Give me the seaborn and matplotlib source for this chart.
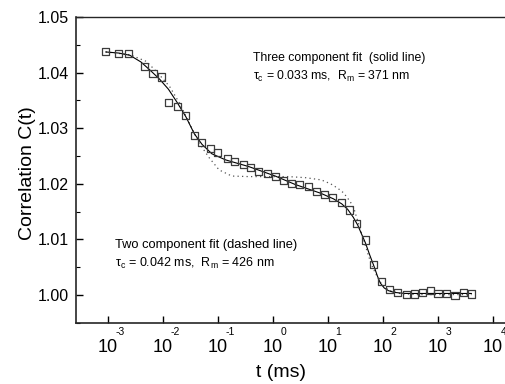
import numpy as np
import pandas as pd
import matplotlib
matplotlib.use("Agg")
import matplotlib.pyplot as plt
import matplotlib.ticker as ticker
import matplotlib.transforms as mtransforms
import seaborn as sns

# measured points: t (ms) and correlation
t_data = [0.000912, 0.00158, 0.00234, 0.00468, 0.00661, 0.00933, 0.0126, 0.0186,
          0.0257, 0.0372, 0.0501, 0.0724, 0.100, 0.148, 0.200, 0.288, 0.398, 0.537,
          0.794, 1.12, 1.55, 2.19, 3.09, 4.37, 6.17, 8.71, 12.0, 17.4, 24.5, 33.1,
          47.9, 67.6, 93.3, 132, 186, 263, 372, 525, 741, 1000, 1413, 2042, 2884, 4074]
c_data = [1.0437, 1.0434, 1.0434, 1.0411, 1.0398, 1.0392, 1.0346, 1.0339, 1.0323,
          1.0287, 1.0275, 1.0264, 1.0257, 1.0245, 1.0240, 1.0234, 1.0230, 1.0222,
          1.0218, 1.0213, 1.0206, 1.0201, 1.0199, 1.0196, 1.0187, 1.0181, 1.0175,
          1.0167, 1.0153, 1.0129, 1.0099, 1.0055, 1.0024, 1.0010, 1.0005, 1.0001,
          1.0002, 1.0005, 1.0009, 1.0003, 1.0003, 1.0000, 1.0004, 1.0002]

# three component fit (solid line)
t_solid = [0.000912, 0.00158, 0.00251, 0.00398, 0.00603, 0.00871, 0.0126, 0.0182,
           0.0263, 0.0372, 0.0513, 0.0776, 0.138, 0.363, 1.10, 2.51, 7.41, 12.6,
           17.8, 22.9, 28.8, 34.7, 40.7, 47.9, 57.5, 69.2, 79.4, 89.1, 105, 126,
           158, 251, 1000, 4074]
c_solid = [1.0437, 1.0435, 1.0431, 1.0419, 1.0403, 1.0388, 1.0370, 1.0346, 1.0320,
           1.0290, 1.0271, 1.0254, 1.0243, 1.0231, 1.0214, 1.0199, 1.0183, 1.0173,
           1.0164, 1.0154, 1.0140, 1.0126, 1.0110, 1.0094, 1.0072, 1.0051, 1.0034,
           1.0022, 1.0013, 1.0008, 1.0005, 1.0003, 1.0003, 1.0003]

# two component fit (dotted line)
t_two = [0.000912, 0.00251, 0.00501, 0.00794, 0.0132, 0.0200, 0.0316, 0.0457, 0.0692,
         0.105, 0.178, 0.363, 1.91, 3.98, 7.59, 11.2, 15.1, 19.1, 22.9, 26.9, 30.2,
         35.5, 42.7, 52.5, 61.7, 72.4, 87.1, 105, 132, 200, 398, 4074]
c_two = [1.0437, 1.0432, 1.0420, 1.0400, 1.0375, 1.0345, 1.0305, 1.0273, 1.0247,
         1.0225, 1.0214, 1.0213, 1.0213, 1.0211, 1.0207, 1.0200, 1.0192, 1.0184,
         1.0174, 1.0164, 1.0153, 1.0130, 1.0105, 1.0076, 1.0055, 1.0040, 1.0025,
         1.0015, 1.0008, 1.0003, 1.0001, 1.0001]

x_ticks = [1e-3, 1e-2, 1e-1, 1e0, 1e1, 1e2, 1e3, 1e4]
x_exps = ['-3', '-2', '-1', '0', '1', '2', '3', '4']
y_ticks = [1.00, 1.01, 1.02, 1.03, 1.04, 1.05]

sns.set_style("ticks")
plt.rcParams['font.family'] = ['Liberation Sans', 'DejaVu Sans']
plt.rcParams['mathtext.fontset'] = 'custom'
plt.rcParams['mathtext.rm'] = 'Liberation Sans'
plt.rcParams['text.color'] = 'black'
plt.rcParams['axes.labelcolor'] = 'black'
plt.rcParams['xtick.color'] = 'black'
plt.rcParams['ytick.color'] = 'black'

fig = plt.figure(figsize=(5.06, 3.84), dpi=100)
ax = fig.add_axes([0.150, 0.159, 0.848, 0.797])

solid = pd.DataFrame({'t': t_solid, 'c': c_solid})
two = pd.DataFrame({'t': t_two, 'c': c_two})
pts = pd.DataFrame({'t': t_data, 'c': c_data})

sns.lineplot(data=two, x='t', y='c', ax=ax, color='#555555', lw=0.9,
             linestyle=(0, (1, 2.6)), sort=False, estimator=None)
sns.lineplot(data=solid, x='t', y='c', ax=ax, color='black', lw=0.8,
             sort=False, estimator=None)
sns.scatterplot(data=pts, x='t', y='c', ax=ax, marker='s', s=26, zorder=3)
sq = ax.collections[-1]
sq.set_facecolor('none')
sq.set_edgecolor('#3c3c3c')
sq.set_linewidth(0.9)

ax.set_xscale('log')
ax.set_xlim(10 ** -3.582, 10 ** 4.218)
ax.set_ylim(0.995, 1.050)
ax.set_xticks(x_ticks)
ax.set_xticklabels(['10'] * len(x_ticks))
ax.xaxis.set_minor_locator(ticker.LogLocator(base=10, subs=np.arange(2, 10)))
ax.xaxis.set_minor_formatter(ticker.NullFormatter())
ax.set_yticks(y_ticks)
ax.yaxis.set_major_formatter(ticker.FormatStrFormatter('%.2f'))
ax.yaxis.set_minor_locator(ticker.MultipleLocator(0.005))

ax.tick_params(axis='both', which='major', direction='in', length=5, width=1.0)
ax.tick_params(axis='both', which='minor', direction='in', length=3, width=0.8)
ax.tick_params(axis='x', which='major', labelsize=13, pad=11.5)
ax.tick_params(axis='y', which='major', labelsize=11.5, pad=5)

# exponents sit above and right of each "10"
trans = mtransforms.blended_transform_factory(ax.transData, ax.transAxes)
for xt, ex in zip(x_ticks, x_exps):
    ax.annotate(ex, xy=(xt, 0), xycoords=trans, xytext=(5.5, -6.5),
                textcoords='offset points', fontsize=7.5, ha='left', va='center',
                annotation_clip=False)

for side in ['left', 'bottom']:
    ax.spines[side].set_linewidth(1.2)
ax.spines['top'].set_linewidth(1.0)
ax.spines['right'].set_visible(False)

ax.set_xlabel('t (ms)', fontsize=14)
ax.set_ylabel('Correlation C(t)', fontsize=14)
ax.xaxis.set_label_coords(0.478, -0.133)
ax.yaxis.set_label_coords(-0.092, 0.49)

ax.text(0.413, 0.866, 'Three component fit  (solid line)', transform=ax.transAxes,
        fontsize=8.8, va='center', ha='left')
ax.text(0.413, 0.807, r'τ$_\mathregular{c}$ = 0.033 ms,  R$_\mathregular{m}$ = 371 nm',
        transform=ax.transAxes, fontsize=8.8, va='center', ha='left')
ax.text(0.091, 0.255, 'Two component fit (dashed line)', transform=ax.transAxes,
        fontsize=9.3, va='center', ha='left')
ax.text(0.091, 0.196, r'τ$_\mathregular{c}$ = 0.042 ms,  R$_\mathregular{m}$ = 426 nm',
        transform=ax.transAxes, fontsize=9.0, va='center', ha='left')

fig.savefig('out.png', dpi=100)
